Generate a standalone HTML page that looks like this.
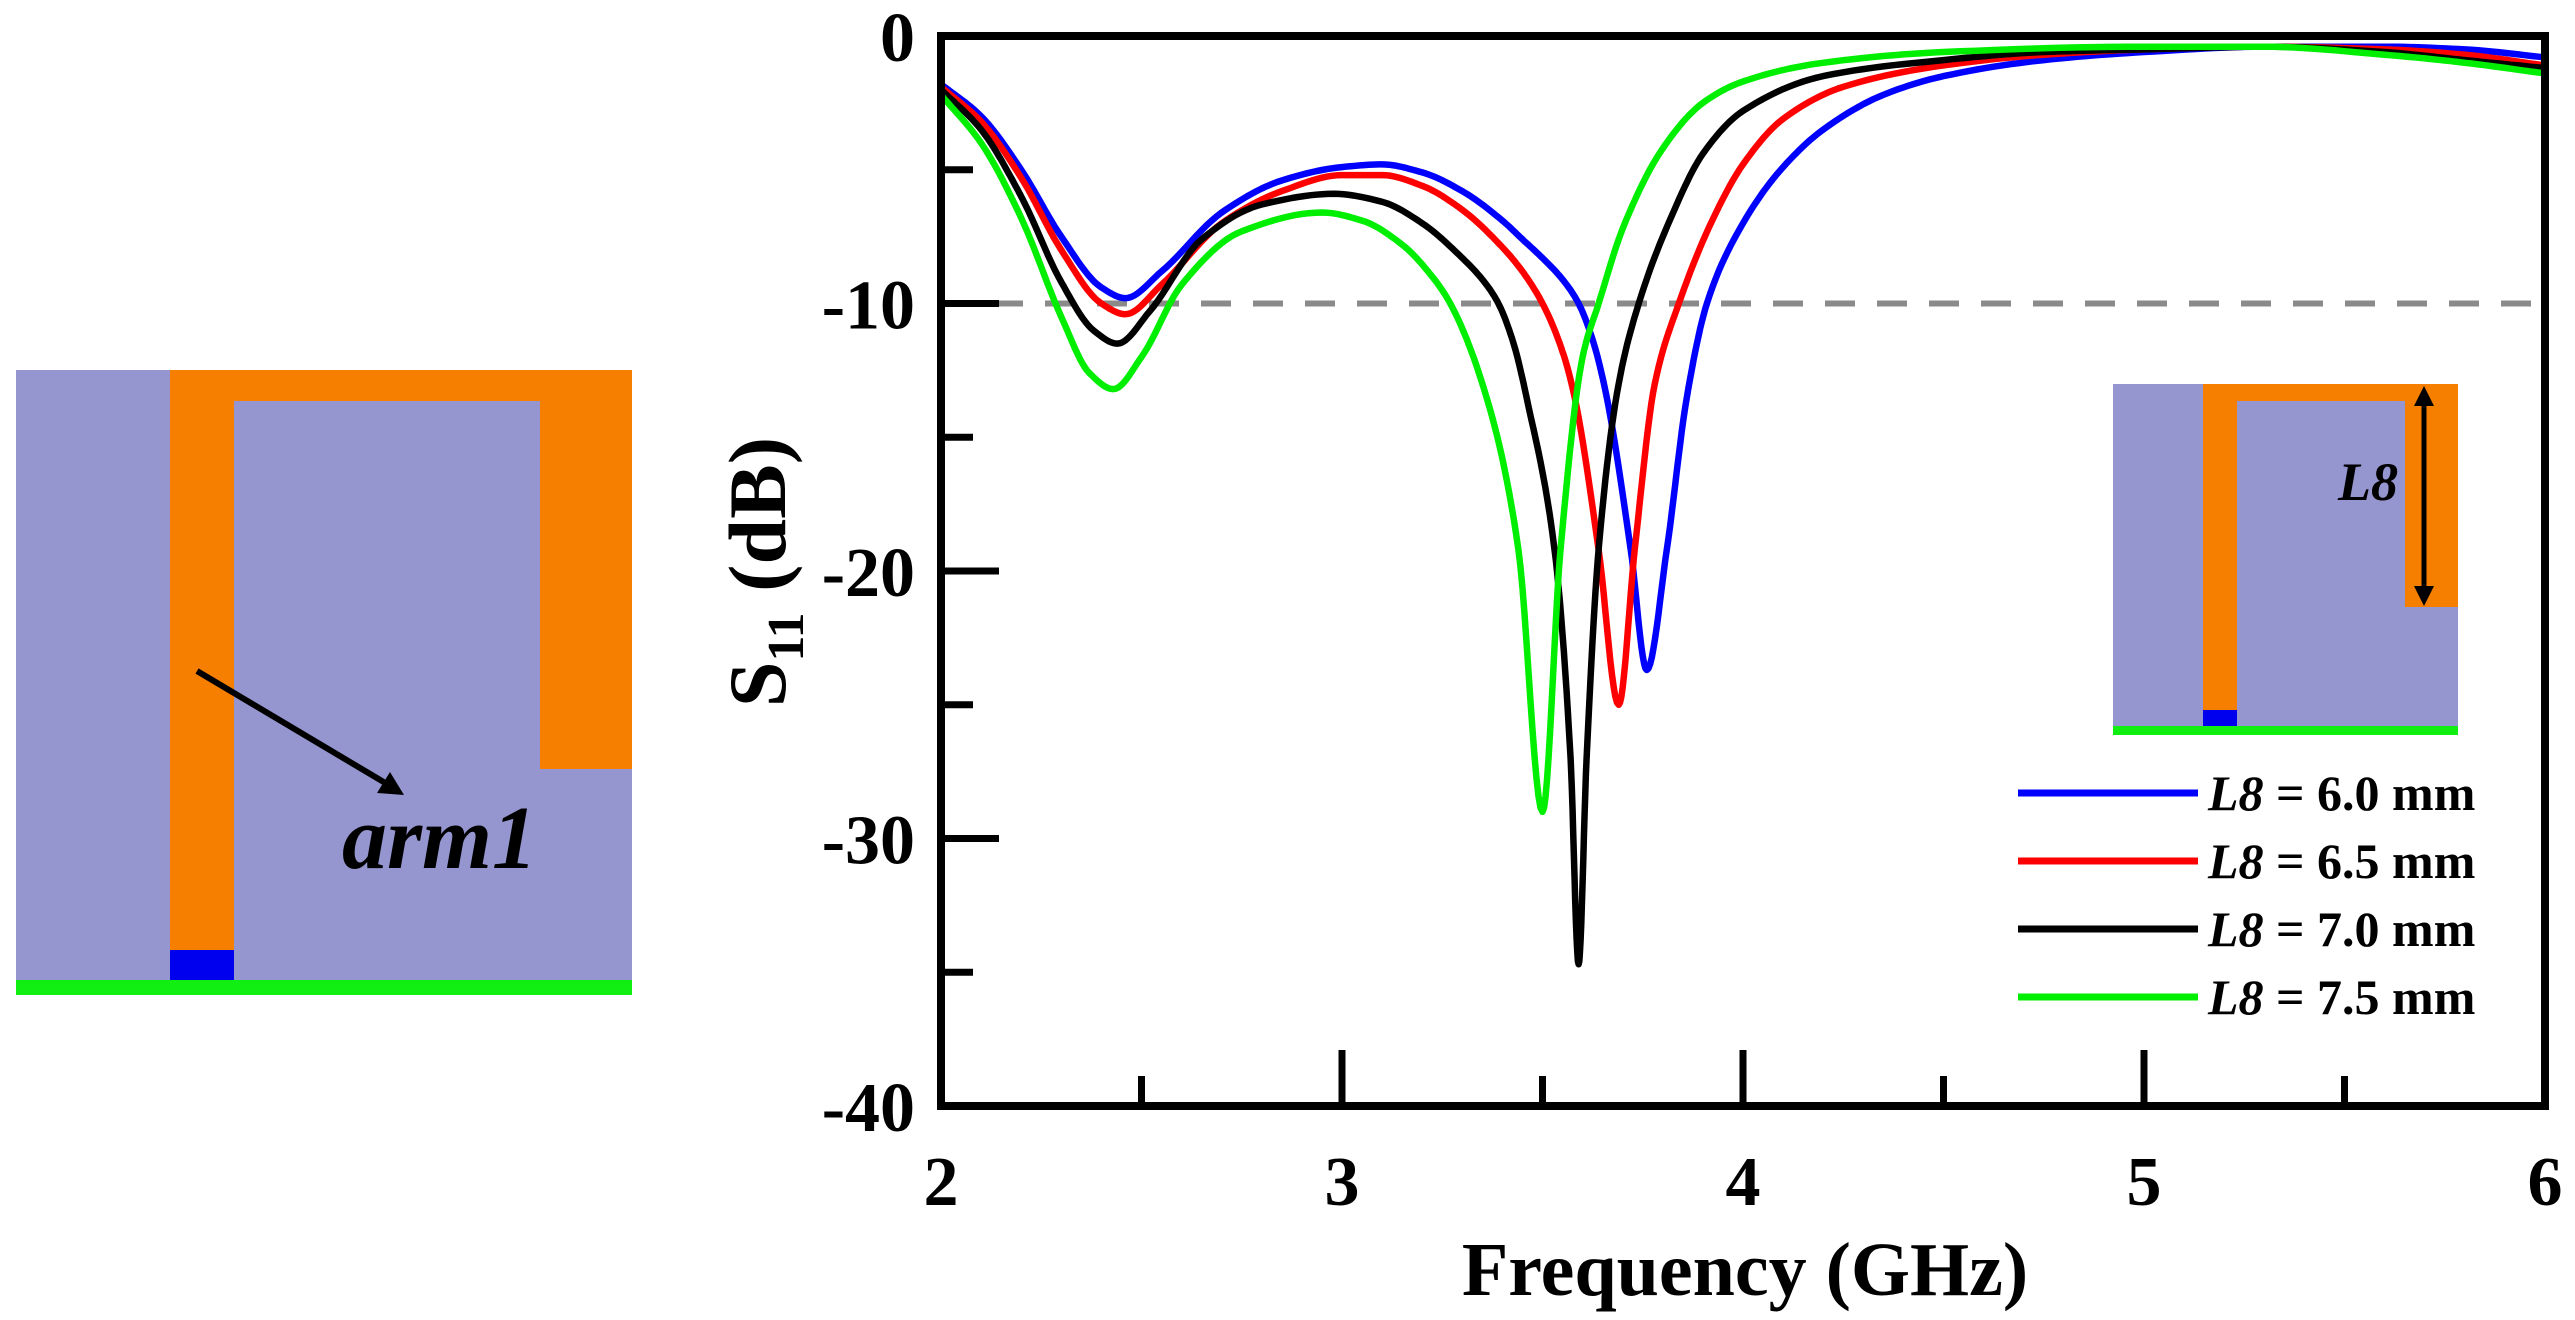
<!DOCTYPE html>
<html><head><meta charset="utf-8">
<style>
html,body{margin:0;padding:0;background:#fff;}
svg{display:block;}
text{font-family:"Liberation Serif",serif;font-weight:bold;}
</style></head>
<body>
<svg id="fig" width="2575" height="1320" viewBox="0 0 2575 1320" xmlns="http://www.w3.org/2000/svg">
  <g>
    <rect x="16" y="370" width="616" height="610" fill="#9595d0"/>
    <rect x="170" y="370" width="462" height="31" fill="#f77f00"/>
    <rect x="170" y="370" width="64" height="580" fill="#f77f00"/>
    <rect x="540" y="370" width="92" height="399" fill="#f77f00"/>
    <rect x="170" y="950" width="64" height="30" fill="#0000ee"/>
    <rect x="16" y="980" width="616" height="15" fill="#11ee11"/>
    <line x1="197" y1="671" x2="392" y2="787" stroke="#000" stroke-width="6"/>
    <polygon points="404,795 377,793 390,772" fill="#000"/>
    <text x="342" y="868" font-size="90" font-style="italic">arm1</text>
  </g>

  <g id="chart"></g>

  <g>
    <rect x="2113" y="384" width="345" height="342" fill="#9595d0"/>
    <rect x="2203" y="384" width="255" height="17" fill="#f77f00"/>
    <rect x="2203" y="384" width="34" height="326" fill="#f77f00"/>
    <rect x="2405" y="384" width="53" height="223" fill="#f77f00"/>
    <rect x="2203" y="710" width="34" height="16" fill="#0000ee"/>
    <rect x="2113" y="726" width="345" height="9" fill="#11ee11"/>
    <line x1="2424" y1="400" x2="2424" y2="592" stroke="#000" stroke-width="5"/>
    <polygon points="2424,386 2414,406 2434,406" fill="#000"/>
    <polygon points="2424,606 2414,586 2434,586" fill="#000"/>
    <text x="2338" y="500" font-size="54" font-style="italic">L8</text>
  </g>
</svg>
<script>
const freqs60 = [2.0,2.1,2.2,2.3,2.4,2.46,2.55,2.7,2.85,3.0,3.1,3.2,3.3,3.4,3.45,3.5,3.55,3.59,3.63,3.66,3.72,3.76,3.81,3.86,3.91,4.0,4.1,4.2,4.35,4.5,4.75,5.0,5.3,5.6,5.8,6.0];
const s11_60 = [-1.8,-3.0,-5.0,-7.5,-9.4,-9.8,-8.8,-6.6,-5.4,-4.9,-4.8,-5.1,-5.8,-6.9,-7.6,-8.3,-9.1,-10,-11.6,-13.5,-19.2,-23.7,-19.2,-13.5,-10,-7.0,-4.9,-3.5,-2.2,-1.5,-0.9,-0.6,-0.4,-0.4,-0.5,-0.8];
const freqs65 = [2.0,2.1,2.2,2.3,2.4,2.46,2.55,2.7,2.85,3.0,3.1,3.2,3.3,3.4,3.45,3.5,3.55,3.58,3.64,3.69,3.73,3.78,3.84,3.92,4.0,4.1,4.25,4.5,4.75,5.0,5.3,5.6,5.8,6.0];
const s11_65 = [-1.9,-3.2,-5.3,-8.0,-10.0,-10.4,-9.3,-7.0,-5.8,-5.2,-5.2,-5.6,-6.5,-7.9,-8.8,-10.0,-11.8,-13.5,-19.2,-25,-19.2,-13,-10,-7.0,-4.8,-3.1,-1.9,-1.1,-0.7,-0.5,-0.4,-0.5,-0.7,-1.1];
const freqs70 = [2.0,2.1,2.2,2.3,2.38,2.44,2.52,2.65,2.8,2.98,3.1,3.2,3.3,3.35,3.39,3.43,3.46,3.53,3.57,3.59,3.61,3.64,3.69,3.74,3.82,3.9,4.0,4.2,4.5,4.75,5.0,5.3,5.6,5.8,6.0];
const s11_70 = [-2.0,-3.5,-6.0,-9.2,-11.0,-11.5,-10.3,-7.6,-6.3,-5.9,-6.2,-7.0,-8.3,-9.1,-10,-11.6,-13.5,-19.2,-27,-34.7,-27,-19.2,-13,-10,-6.8,-4.4,-2.8,-1.5,-0.9,-0.6,-0.5,-0.4,-0.6,-0.9,-1.2];
const freqs75 = [2.0,2.1,2.2,2.3,2.37,2.43,2.5,2.6,2.75,2.95,3.05,3.15,3.22,3.27,3.37,3.44,3.5,3.545,3.6,3.64,3.7,3.8,3.9,4.0,4.2,4.5,5.0,5.3,5.6,5.8,6.0];
const s11_75 = [-2.2,-4.0,-6.8,-10.5,-12.6,-13.2,-12.0,-9.3,-7.3,-6.6,-6.9,-7.8,-8.9,-10,-14,-19.2,-29,-19.2,-12,-10,-7.2,-4.2,-2.5,-1.7,-1.0,-0.6,-0.4,-0.4,-0.7,-1.0,-1.4];
const seriesLabels = ["= 6.0 mm","= 6.5 mm","= 7.0 mm","= 7.5 mm"];
const xTicks = [2,3,4,5,6];
const yTicks = [0,-10,-20,-30,-40];

const NS="http://www.w3.org/2000/svg";
const X0=941,X1=2545,Y0=36,Y1=1106;
const xs=f=>X0+(f-2)/(6-2)*(X1-X0);
const ys=v=>Y0+(0-v)/(0-(-40))*(Y1-Y0);
const g=document.getElementById('chart');
function mk(tag,attrs,parent){const e=document.createElementNS(NS,tag);for(const k in attrs)e.setAttribute(k,attrs[k]);(parent||g).appendChild(e);return e;}

let dl=mk('line',{x1:X0,y1:ys(-10),x2:X1,y2:ys(-10),stroke:'#8a8a8a','stroke-width':6,'stroke-dasharray':'30 22'});



function path(x,y){
  const n=x.length,d=[],m=new Array(n);
  for(let i=0;i<n-1;i++)d.push((y[i+1]-y[i])/(x[i+1]-x[i]));
  m[0]=d[0];m[n-1]=d[n-2];
  for(let i=1;i<n-1;i++){
    if(d[i-1]*d[i]<=0)m[i]=0;
    else{const w1=2*(x[i+1]-x[i])+(x[i]-x[i-1]),w2=(x[i+1]-x[i])+2*(x[i]-x[i-1]);m[i]=(w1+w2)/(w1/d[i-1]+w2/d[i]);}
  }
  let s=`M${xs(x[0]).toFixed(1)},${ys(y[0]).toFixed(1)}`;
  for(let i=0;i<n-1;i++){
    const h=x[i+1]-x[i];
    for(let k=1;k<=12;k++){
      const t=k/12,t2=t*t,t3=t2*t;
      const v=(2*t3-3*t2+1)*y[i]+(t3-2*t2+t)*h*m[i]+(-2*t3+3*t2)*y[i+1]+(t3-t2)*h*m[i+1];
      s+=` L${xs(x[i]+t*h).toFixed(1)},${ys(v).toFixed(1)}`;
    }
  }
  return s;
}
const series=[[freqs60,s11_60,'#0000ff','6-0'],[freqs65,s11_65,'#ff0000','6-5'],[freqs70,s11_70,'#000000','7-0'],[freqs75,s11_75,'#00ee00','7-5']];
series.forEach(s=>{
  const el=mk('path',{d:path(s[0],s[1]),fill:'none',stroke:s[2],'stroke-width':6.5,'stroke-linejoin':'round'});
  
  
});

const fr=mk('rect',{x:X0,y:Y0,width:X1-X0,height:Y1-Y0,fill:'none',stroke:'#000','stroke-width':8});



for(let v=0;v>=-40;v-=5){
  const major=v%10===0;
  const t=mk('line',{x1:X0,y1:ys(v),x2:X0+(major?58:32),y2:ys(v),stroke:'#000','stroke-width':7});
  
  
}
yTicks.forEach(v=>{
  const t=mk('text',{x:915,y:ys(v)+25,'font-size':70,'text-anchor':'end'});
  t.textContent=String(v);
  
  
});
for(let f=2.5;f<6;f+=0.5){
  const major=Math.abs(f-Math.round(f))<1e-6;
  const t=mk('line',{x1:xs(f),y1:Y1,x2:xs(f),y2:Y1-(major?56:30),stroke:'#000','stroke-width':7});
  
  
}
xTicks.forEach(f=>{
  const t=mk('text',{x:xs(f),y:1205,'font-size':70,'text-anchor':'middle'});
  t.textContent=String(f);
  
  
});
const xt=mk('text',{x:1745,y:1295,'font-size':76,'text-anchor':'middle'});
xt.textContent='Frequency (GHz)';


const yt=mk('text',{x:0,y:0,'font-size':82,'text-anchor':'middle',transform:'translate(785,572) rotate(-90)'});
yt.innerHTML='S<tspan font-size="52" dy="18">11</tspan><tspan dy="-18"> (dB)</tspan>';



const legY=[793,861,929,997];
series.forEach((s,i)=>{
  const l=mk('line',{x1:2018,y1:legY[i],x2:2198,y2:legY[i],stroke:s[2],'stroke-width':7});
  
  
  const t=mk('text',{x:2208,y:legY[i]+17,'font-size':50});
  t.innerHTML='<tspan font-style="italic">L8</tspan> '+seriesLabels[i];
  
  
});
</script>
</body></html>
